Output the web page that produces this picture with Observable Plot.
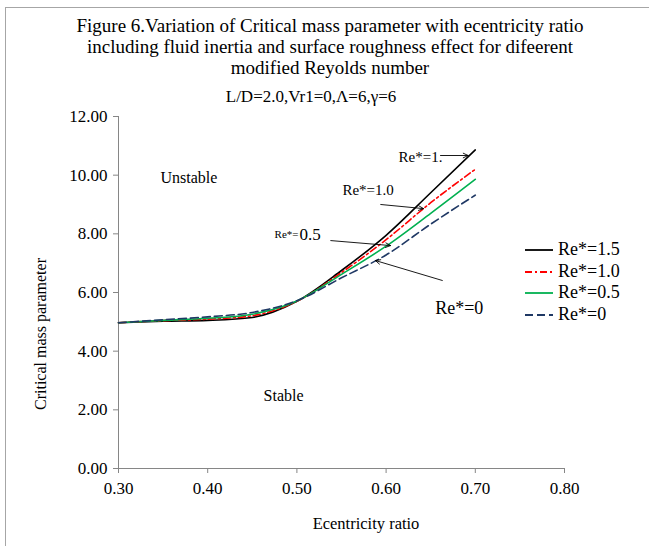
<!DOCTYPE html>
<html>
<head>
<meta charset="utf-8">
<script src="https://cdn.jsdelivr.net/npm/d3@7"></script>
<script src="https://cdn.jsdelivr.net/npm/@observablehq/plot@0.6"></script>
<style>
  html, body { margin: 0; padding: 0; background: #fff; }
  #wrap { position: relative; width: 649px; height: 546px; font-family: "Liberation Serif", "Times New Roman", serif; color: #000; overflow: hidden; }
  #wrap svg.plot { position: absolute; left: 0; top: 0; }
  .abs { position: absolute; white-space: nowrap; }
  #frame { position: absolute; left: 5px; top: 7px; width: 660px; height: 560px; border-left: 1.5px solid #a6a6a6; border-top: 1.5px solid #a6a6a6; }
  #title { left: 0; width: 660px; top: 15px; text-align: center; font-size: 19px; line-height: 21px; }
  #subtitle { left: 311px; top: 97px; font-size: 17px; transform: translate(-50%, -50%); }
  #ylab { left: 41px; top: 334px; font-size: 16px; transform: translate(-50%, -50%) rotate(-90deg); }
  #xlab { left: 366px; top: 524px; font-size: 16.5px; transform: translate(-50%, -50%); }
  #legend { left: 524px; top: 239px; font-size: 18px; line-height: 21.7px; }
  #legend div { display: flex; align-items: center; }
  #legend svg { margin-right: 4px; }
</style>
</head>
<body>
<div id="wrap">
  <div id="frame"></div>
</div>
<script>
// ---- data ----
const ecc   = [0.30, 0.35, 0.40, 0.45, 0.50, 0.55, 0.60, 0.65, 0.70];
const re15  = [4.97, 5.02, 5.05, 5.15, 5.70, 6.75, 7.95, 9.40, 10.86];
const re10  = [4.97, 5.04, 5.09, 5.21, 5.70, 6.68, 7.80, 9.06, 10.20];
const re05  = [4.97, 5.05, 5.12, 5.26, 5.71, 6.62, 7.58, 8.70, 9.86];
const re00  = [4.97, 5.07, 5.17, 5.32, 5.72, 6.50, 7.28, 8.33, 9.32];
const seriesNames  = ["Re*=1.5", "Re*=1.0", "Re*=0.5", "Re*=0"];
const seriesColors = ["#000000", "#ff0000", "#00b050", "#1f3864"];
const seriesDash   = [null, "7,3,2,3", null, "8,4"];
const xTicks = [0.30, 0.40, 0.50, 0.60, 0.70, 0.80];
const yTicks = [0, 2, 4, 6, 8, 10, 12];
const titleLines = [
  "Figure 6.Variation of Critical mass parameter with ecentricity ratio",
  "including fluid inertia and surface roughness effect for difeerent",
  "modified Reyolds number"
];
const subtitle = "L/D=2.0,Vr1=0,\u039B=6,\u03B3=6";
const xLabel = "Ecentricity ratio";
const yLabel = "Critical mass parameter";
// region labels (data coords)
const regionText = ["Unstable", "Stable"];
const regionX = [0.347, 0.4626];
const regionY = [9.92, 2.49];
// annotations: text and arrow (data coords)
const annText  = ["Re*=1.", "Re*=1.0", "Re*=", "0.5", "Re*=0"];
const annX     = [0.614, 0.551, 0.475, 0.503, 0.655];
const annY     = [10.60, 9.48, 7.98, 7.98, 5.46];
const annSize  = [15, 15, 11, 17, 18];
const arrX1 = [0.661, 0.594, 0.538, 0.663];
const arrY1 = [10.67, 9.00, 7.77, 6.41];
const arrX2 = [0.692, 0.642, 0.605, 0.588];
const arrY2 = [10.67, 8.86, 7.60, 7.09];

// ---- build ----
const allSeries = [re15, re10, re05, re00];
const rows = [];
allSeries.forEach((vals, i) => vals.forEach((v, j) => rows.push({x: ecc[j], y: v, s: i})));
const anns = annText.map((t, i) => ({t, x: annX[i], y: annY[i], size: annSize[i]}));
const arrows = arrX1.map((_, i) => ({x1: arrX1[i], y1: arrY1[i], x2: arrX2[i], y2: arrY2[i]}));
const regions = regionText.map((t, i) => ({t, x: regionX[i], y: regionY[i]}));

const lineMarks = seriesNames.map((name, i) =>
  Plot.line(rows.filter(d => d.s === i), {
    x: "x", y: "y", curve: "monotone-x",
    stroke: seriesColors[i], strokeWidth: 1.6,
    strokeDasharray: seriesDash[i] || undefined
  })
);

const chart = Plot.plot({
  width: 649, height: 546,
  marginLeft: 118, marginRight: 85, marginTop: 116, marginBottom: 78,
  style: { fontFamily: "Liberation Serif, Times New Roman, serif", fontSize: "17px", background: "transparent", overflow: "visible" },
  x: { domain: [0.3, 0.8] },
  y: { domain: [0, 12] },
  marks: [
    Plot.ruleX([0.3], { stroke: "#868686", strokeWidth: 1 }),
    Plot.ruleY([0], { stroke: "#868686", strokeWidth: 1 }),
    Plot.axisX({ ticks: xTicks, tickFormat: d => d.toFixed(2), tickSize: 5, tickPadding: 8, stroke: "#868686", fill: "#000", fontSize: 17, label: null }),
    Plot.axisY({ ticks: yTicks, tickFormat: d => d.toFixed(2), tickSize: 5, tickPadding: 6, stroke: "#868686", fill: "#000", fontSize: 17, label: null }),
    ...lineMarks,
    Plot.arrow(arrows, { x1: "x1", y1: "y1", x2: "x2", y2: "y2", stroke: "#000", strokeWidth: 0.9, headLength: 9, headAngle: 50, bend: 0 }),
    ...anns.map(a => Plot.text([a], { x: "x", y: "y", text: "t", textAnchor: "start", fontSize: a.size, fill: "#000" })),
    Plot.text(regions, { x: "x", y: "y", text: "t", textAnchor: "start", fontSize: 16, fill: "#000" })
  ]
});
chart.classList.add("plot");
const wrap = document.getElementById("wrap");
wrap.appendChild(chart);

function addDiv(id, html) {
  const d = document.createElement("div");
  d.id = id; d.className = "abs"; d.innerHTML = html;
  wrap.appendChild(d);
  return d;
}
addDiv("title", titleLines.join("<br>"));
addDiv("subtitle", subtitle);
addDiv("ylab", yLabel);
addDiv("xlab", xLabel);
const leg = addDiv("legend", "");
seriesNames.forEach((name, i) => {
  const row = document.createElement("div");
  const dash = seriesDash[i] ? `stroke-dasharray="${seriesDash[i]}"` : "";
  row.innerHTML = `<svg width="30" height="10"><line x1="1" y1="5" x2="29" y2="5" stroke="${seriesColors[i]}" stroke-width="1.8" ${dash}/></svg><span>${name}</span>`;
  leg.appendChild(row);
});
</script>
</body>
</html>
